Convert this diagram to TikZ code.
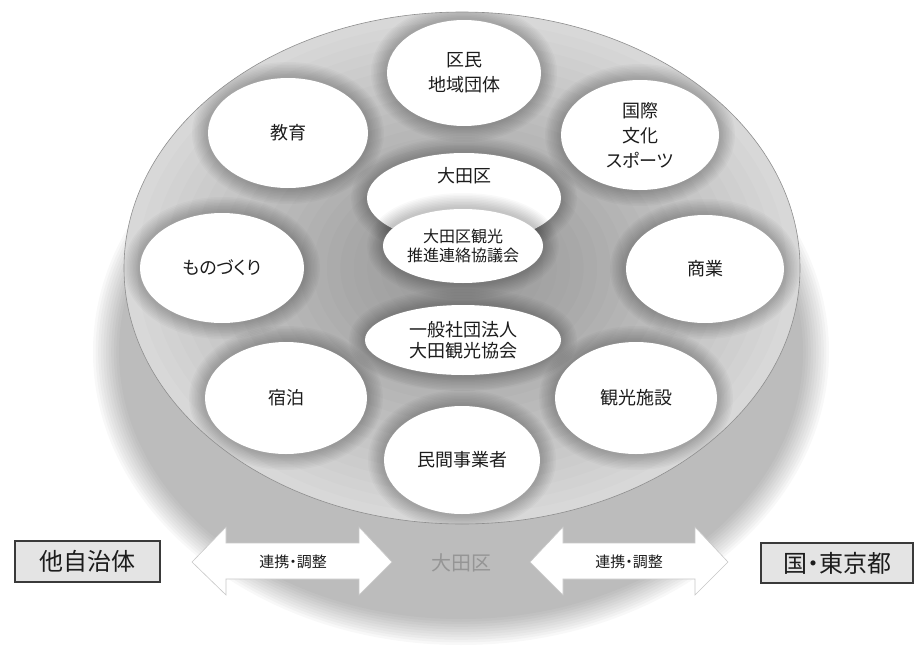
\documentclass[tikz,border=0pt]{standalone}
\usepackage{fontspec}
\setmainfont[RawFeature=+palt]{Noto Sans CJK JP}
\usetikzlibrary{shapes.geometric}
\definecolor{faceout}{HTML}{D8D8D8}
\definecolor{txt}{HTML}{1C1C1C}
\definecolor{boxfill}{HTML}{E4E4E4}
\definecolor{boxline}{HTML}{3A3A3A}
\definecolor{rimline}{HTML}{8E8E8E}
\definecolor{centertxt}{HTML}{959595}
\tikzset{
  halo/.style={
    preaction={draw=black, draw opacity=.022, line width=32pt},
    preaction={draw=black, draw opacity=.022, line width=29pt},
    preaction={draw=black, draw opacity=.022, line width=26pt},
    preaction={draw=black, draw opacity=.022, line width=23pt},
    preaction={draw=black, draw opacity=.022, line width=20pt},
    preaction={draw=black, draw opacity=.022, line width=17pt},
    preaction={draw=black, draw opacity=.022, line width=14pt},
    preaction={draw=black, draw opacity=.022, line width=11pt},
    preaction={draw=black, draw opacity=.022, line width=8pt},
    preaction={draw=black, draw opacity=.022, line width=5pt}},
  disc/.style={ellipse, fill=white, inner sep=0pt, align=center, text=txt,
    font=\fontsize{18}{25}\selectfont, halo},
  blurlayer/.style={fill=black, fill opacity=.027},
  facelayer/.style={fill=black, fill opacity=.012},
  dblarrow/.style={fill=white, draw=black!22, line width=0.6pt, line join=miter},
  arrowlbl/.style={text=txt, font=\fontsize{15}{18}\selectfont},
  sidebox/.style={draw=boxline, line width=1.6pt, fill=boxfill, text=txt,
    font=\fontsize{24}{28}\selectfont, inner sep=0pt}
}
\begin{document}
\begin{tikzpicture}[x=1pt,y=-1pt]
\useasboundingbox (0,0) rectangle (919,648);
% base shadow of the disc (soft edge by stacked layers)
\foreach \i in {0,...,10}{
  \path[blurlayer] (461,352) ellipse [x radius={368pt-2.6pt*\i}, y radius={293pt-2.6pt*\i}];
}
% top face
\path[fill=faceout] (462,268) ellipse [x radius=338pt, y radius=256pt];
\foreach \k in {1,...,20}{
  \path[facelayer] (462,268) ellipse [x radius={338pt*(1-0.04*\k)}, y radius={256pt*(1-0.04*\k)}];
}
\begin{scope}
  \clip (462,268) ellipse [x radius=338pt, y radius=256pt];
  \node[disc, minimum width=154pt, minimum height=106pt] (kumin) at (464,73) {区民\\地域団体};
  \node[disc, minimum width=160pt, minimum height=110pt] (kyoiku) at (288,133) {教育};
  \node[disc, minimum width=158pt, minimum height=110pt] (kokusai) at (640,135) {国際\\文化\\スポーツ};
  \node[disc, minimum width=164pt, minimum height=110pt] (mono) at (222,268) {ものづくり};
  \node[disc, minimum width=158pt, minimum height=108pt] (shogyo) at (705,269) {商業};
  \node[disc, minimum width=162pt, minimum height=112pt] (shuku) at (286,398) {宿泊};
  \node[disc, minimum width=162pt, minimum height=112pt] (shisetsu) at (636,398) {観光施設};
  \node[disc, minimum width=156pt, minimum height=108pt] (minkan) at (462,460) {民間事業者};
  \node[disc, minimum width=196pt, minimum height=70pt, font=\fontsize{18}{21}\selectfont] (kyokai) at (463,340) {一般社団法人\\大田観光協会};
  \node[disc, minimum width=194pt, minimum height=90pt] (otatop) at (464,198) {};
  \node[disc, minimum width=160pt, minimum height=74pt, font=\fontsize{16}{19}\selectfont] (suishin) at (463,246) {大田区観光\\推進連絡協議会};
\end{scope}
\node[text=txt, font=\fontsize{18}{22}\selectfont] (otalbl) at (464,176) {大田区};
\draw[rimline, line width=0.6pt] (462,268) ellipse [x radius=338pt, y radius=256pt];
% bottom row
\path[dblarrow] (192,562) -- (226,527) -- (226,543) -- (359,543) -- (359,527) -- (392,562)
  -- (359,595) -- (359,579) -- (226,579) -- (226,595) -- cycle;
\path[dblarrow] (530,562) -- (563,527) -- (563,543) -- (695,543) -- (695,527) -- (728,562)
  -- (695,595) -- (695,579) -- (563,579) -- (563,595) -- cycle;
\node[arrowlbl] (renkei1) at (293,562) {連携・調整};
\node[arrowlbl] (renkei2) at (629,562) {連携・調整};
\node[text=centertxt, font=\fontsize{20}{24}\selectfont] (otaku) at (461,563) {大田区};
\node[sidebox, minimum width=145pt, minimum height=41pt] (tajichitai) at (87.5,561.5) {他自治体};
\node[sidebox, minimum width=152pt, minimum height=40pt] (kuni) at (837,563) {国・東京都};
\end{tikzpicture}
\end{document}
